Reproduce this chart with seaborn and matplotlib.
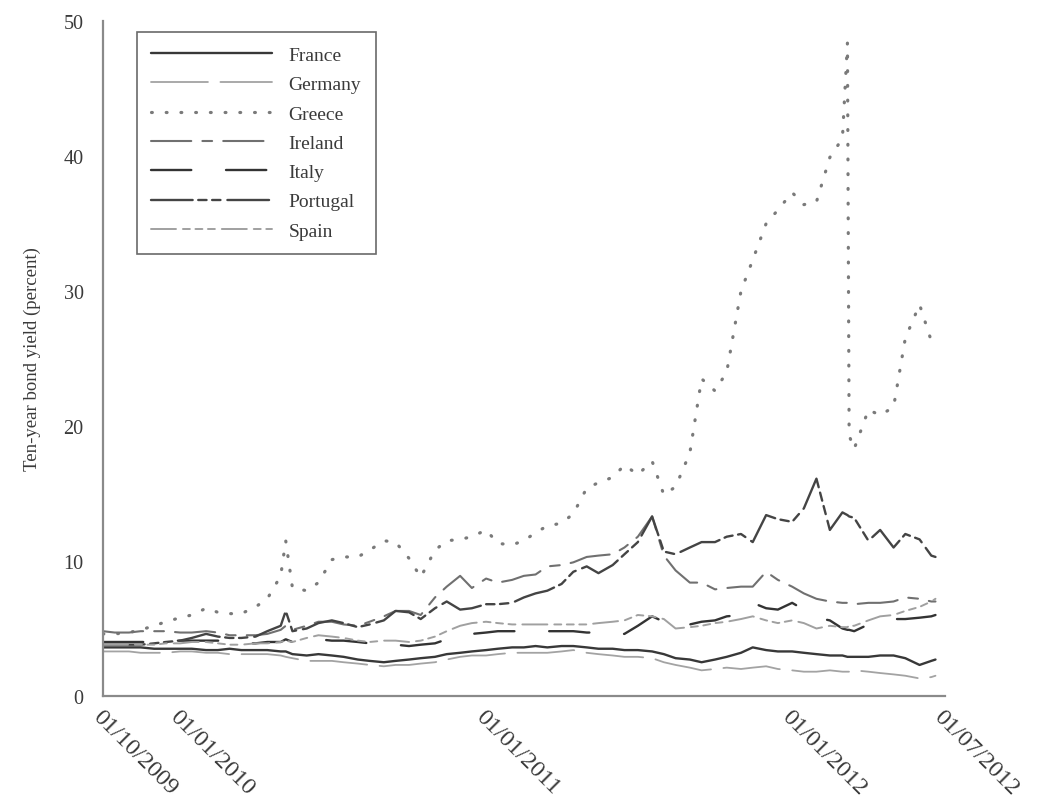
import matplotlib
matplotlib.use("Agg")
import matplotlib.pyplot as plt
import pandas as pd
import seaborn as sns

dates = [
    "2009-10-01", "2009-10-15", "2009-11-01", "2009-11-15", "2009-12-01", "2009-12-15",
    "2010-01-01", "2010-01-15", "2010-02-01", "2010-02-15", "2010-03-01", "2010-03-15",
    "2010-04-01", "2010-04-15", "2010-05-01", "2010-05-07", "2010-05-15", "2010-06-01",
    "2010-06-15", "2010-07-01", "2010-07-15", "2010-08-01", "2010-08-15", "2010-09-01",
    "2010-09-15", "2010-10-01", "2010-10-15", "2010-11-01", "2010-11-15", "2010-12-01",
    "2010-12-15", "2011-01-01", "2011-01-15", "2011-02-01", "2011-02-15", "2011-03-01",
    "2011-03-15", "2011-04-01", "2011-04-15", "2011-05-01", "2011-05-15", "2011-06-01",
    "2011-06-15", "2011-07-01", "2011-07-18", "2011-08-01", "2011-08-15", "2011-09-01",
    "2011-09-15", "2011-10-01", "2011-10-15", "2011-11-01", "2011-11-15", "2011-12-01",
    "2011-12-15", "2012-01-01", "2012-01-15", "2012-01-30", "2012-02-15", "2012-03-01",
    "2012-03-07", "2012-03-09", "2012-03-15", "2012-04-01", "2012-04-15", "2012-05-01",
    "2012-05-15", "2012-06-01", "2012-06-15", "2012-06-20",
]

france = [
    3.6, 3.6, 3.6, 3.6, 3.5, 3.5, 3.5, 3.5, 3.4, 3.4, 3.5, 3.4, 3.4, 3.4, 3.3, 3.3,
    3.1, 3.0, 3.1, 3.0, 2.9, 2.7, 2.6, 2.5, 2.6, 2.7, 2.8, 2.9, 3.1, 3.2, 3.3, 3.4,
    3.5, 3.6, 3.6, 3.7, 3.6, 3.7, 3.7, 3.6, 3.5, 3.5, 3.4, 3.4, 3.3, 3.1, 2.8, 2.7,
    2.5, 2.7, 2.9, 3.2, 3.6, 3.4, 3.3, 3.3, 3.2, 3.1, 3.0, 3.0, 2.9, 2.9, 2.9, 2.9,
    3.0, 3.0, 2.8, 2.3, 2.6, 2.7,
]
germany = [
    3.3, 3.3, 3.3, 3.2, 3.2, 3.2, 3.3, 3.3, 3.2, 3.2, 3.1, 3.1, 3.1, 3.1, 3.0, 2.9,
    2.8, 2.6, 2.6, 2.6, 2.5, 2.4, 2.3, 2.2, 2.3, 2.3, 2.4, 2.5, 2.7, 2.9, 3.0, 3.0,
    3.1, 3.2, 3.2, 3.2, 3.2, 3.3, 3.4, 3.2, 3.1, 3.0, 2.9, 2.9, 2.8, 2.5, 2.3, 2.1,
    1.9, 2.0, 2.1, 2.0, 2.1, 2.2, 2.0, 1.9, 1.8, 1.8, 1.9, 1.8, 1.8, 1.8, 1.9, 1.8,
    1.7, 1.6, 1.5, 1.3, 1.4, 1.5,
]
greece = [
    4.6, 4.6, 4.7, 4.9, 5.2, 5.5, 5.8, 6.0, 6.5, 6.2, 6.1, 6.1, 6.6, 7.2, 8.9, 11.5,
    8.0, 7.8, 8.4, 10.1, 10.3, 10.3, 10.8, 11.5, 11.4, 10.2, 8.8, 10.8, 11.5, 11.6, 11.8, 12.3,
    11.3, 11.2, 11.5, 12.1, 12.6, 12.8, 13.5, 15.4, 15.8, 16.2, 17.1, 16.4, 17.4, 14.9, 15.5, 18.0,
    23.5, 22.6, 24.0, 30.0, 32.3, 35.0, 36.0, 37.3, 36.4, 36.6, 39.9, 41.3, 48.4, 19.3, 18.3, 21.2,
    20.8, 21.4, 26.5, 29.0, 26.3, 26.0,
]
ireland = [
    4.8, 4.7, 4.7, 4.8, 4.8, 4.8, 4.7, 4.7, 4.8, 4.7, 4.5, 4.5, 4.5, 4.6, 4.9, 5.2,
    4.9, 5.2, 5.5, 5.5, 5.3, 5.2, 5.5, 5.9, 6.3, 6.3, 6.0, 7.3, 8.1, 8.9, 8.0, 8.7,
    8.4, 8.6, 8.9, 9.0, 9.6, 9.7, 9.9, 10.3, 10.4, 10.5, 11.0, 11.8, 13.3, 10.4, 9.3, 8.4,
    8.4, 7.9, 8.0, 8.1, 8.1, 9.2, 8.6, 8.1, 7.6, 7.2, 7.0, 6.9, 6.9, 6.9, 6.8, 6.9,
    6.9, 7.0, 7.3, 7.2, 7.0, 7.0,
]
italy = [
    4.0, 4.0, 4.0, 4.0, 4.0, 4.1, 4.1, 4.1, 4.1, 4.1, 4.0, 3.9, 3.9, 4.0, 4.0, 4.2,
    4.0, 4.2, 4.2, 4.1, 4.1, 4.0, 3.9, 3.9, 3.8, 3.7, 3.8, 3.9, 4.2, 4.3, 4.6, 4.7,
    4.8, 4.8, 4.8, 4.8, 4.8, 4.8, 4.8, 4.7, 4.7, 4.6, 4.6, 5.2, 5.9, 5.5, 5.0, 5.3,
    5.5, 5.6, 5.9, 6.0, 6.9, 6.5, 6.4, 6.9, 6.4, 5.8, 5.6, 5.0, 4.9, 4.9, 4.8, 5.3,
    5.6, 5.7, 5.7, 5.8, 5.9, 6.0,
]
portugal = [
    3.8, 3.8, 3.8, 3.8, 3.9, 4.0, 4.1, 4.3, 4.6, 4.4, 4.3, 4.3, 4.4, 4.8, 5.2, 6.3,
    4.8, 5.0, 5.4, 5.6, 5.4, 5.1, 5.3, 5.6, 6.3, 6.2, 5.7, 6.5, 7.0, 6.4, 6.5, 6.8,
    6.8, 6.9, 7.3, 7.6, 7.8, 8.3, 9.2, 9.6, 9.1, 9.7, 10.5, 11.4, 13.3, 10.7, 10.5, 11.0,
    11.4, 11.4, 11.8, 12.0, 11.4, 13.4, 13.1, 12.9, 13.9, 16.1, 12.3, 13.6, 13.4, 13.3, 13.2, 11.5,
    12.3, 11.0, 12.0, 11.6, 10.4, 10.3,
]
spain = [
    3.8, 3.8, 3.8, 3.8, 3.8, 3.9, 3.9, 4.0, 4.0, 3.9, 3.8, 3.8, 3.9, 3.9, 4.0, 4.1,
    4.0, 4.3, 4.5, 4.4, 4.3, 4.1, 4.0, 4.1, 4.1, 4.0, 4.1, 4.4, 4.8, 5.2, 5.4, 5.5,
    5.4, 5.3, 5.3, 5.3, 5.3, 5.3, 5.3, 5.3, 5.4, 5.5, 5.6, 6.0, 5.9, 5.7, 5.0, 5.1,
    5.2, 5.4, 5.5, 5.7, 5.9, 5.6, 5.4, 5.6, 5.4, 5.0, 5.2, 5.1, 5.1, 5.2, 5.2, 5.6,
    5.9, 6.0, 6.3, 6.6, 7.0, 7.2,
]

tick_dates = ["2009-10-01", "2010-01-01", "2011-01-01", "2012-01-01", "2012-07-01"]
tick_labels = ["01/10/2009", "01/01/2010", "01/01/2011", "01/01/2012", "01/07/2012"]

series = [
    ("France", france, "#383838", 1.7, "-"),
    ("Germany", germany, "#a3a3a3", 1.3, (0, (41, 9))),
    ("Greece", greece, "#7a7a7a", 2.3, (0, (0.6, 10))),
    ("Ireland", ireland, "#707070", 1.5, (0, (29, 8, 7, 8))),
    ("Italy", italy, "#333333", 1.7, (0, (29, 25))),
    ("Portugal", portugal, "#444444", 1.7, (0, (30, 4, 6, 4, 6, 5))),
    ("Spain", spain, "#a0a0a0", 1.4, (0, (18, 5, 5, 4, 5, 4, 5, 5))),
]

sns.set_style("white")
plt.rcParams["font.family"] = ["Liberation Serif", "DejaVu Serif"]
plt.rcParams["lines.scale_dashes"] = False

fig = plt.figure(figsize=(10.37, 8.04), dpi=100)
ax = fig.add_axes([0.0993, 0.1331, 0.8117, 0.8395])

x = pd.to_datetime(dates)
for name, values, color, lw, ls in series:
    sns.lineplot(x=x, y=values, ax=ax, color=color, lw=lw, linestyle=ls,
                 label=name, dash_capstyle="round")

ax.set_xlim(pd.Timestamp("2009-10-01"), pd.Timestamp("2012-07-01"))
ax.set_ylim(0, 50)
ax.set_yticks([0, 10, 20, 30, 40, 50])
ax.set_xticks(pd.to_datetime(tick_dates))
ax.set_xticklabels(tick_labels, rotation=-45, ha="left", va="top",
                   rotation_mode="anchor")
ax.tick_params(axis="both", length=0, colors="#3a3a3a")
ax.tick_params(axis="y", labelsize=14.5, pad=14)
ax.tick_params(axis="x", labelsize=17.5, pad=7)
ax.set_xlabel("")
ax.set_ylabel("Ten-year bond yield (percent)", fontsize=13.5, color="#3a3a3a",
              labelpad=16)

sns.despine(ax=ax)
for side in ["left", "bottom"]:
    ax.spines[side].set_color("#8a8a8a")
    ax.spines[side].set_linewidth(1.6)

leg = ax.legend(loc="upper left", bbox_to_anchor=(0.04, 0.984), fontsize=14,
                handlelength=6.2, handletextpad=0.85, labelspacing=0.6,
                borderpad=0.75, borderaxespad=0, fancybox=False, framealpha=1)
leg.get_frame().set_edgecolor("#6a6a6a")
leg.get_frame().set_linewidth(1.2)
for t in leg.get_texts():
    t.set_color("#3a3a3a")

fig.savefig("out.png", dpi=100)
